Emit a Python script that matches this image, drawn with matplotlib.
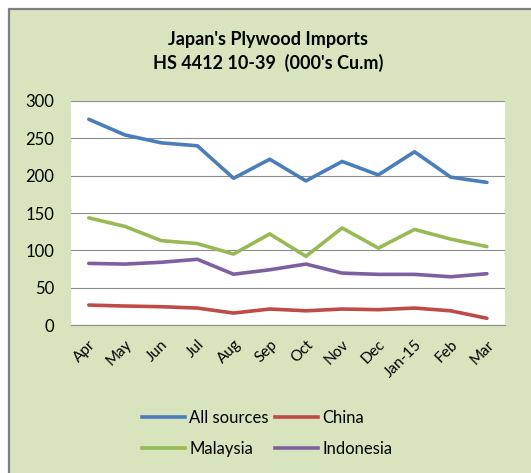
import matplotlib
matplotlib.use("Agg")
import matplotlib.pyplot as plt
from matplotlib.patches import Rectangle
from matplotlib.lines import Line2D

months = ["Apr", "May", "Jun", "Jul", "Aug", "Sep", "Oct", "Nov", "Dec", "Jan-15", "Feb", "Mar"]
all_sources = [275.5, 254.5, 244, 240, 196.5, 222, 193, 219, 201, 232, 198, 191]
china = [26.7, 25.4, 24.5, 22.7, 16, 21.4, 19, 21.4, 20.5, 22.7, 19, 9]
malaysia = [143.5, 132, 113, 109, 95, 122, 92, 130, 103, 128, 115, 105]
indonesia = [82.5, 81.6, 84, 88, 68, 74, 81.6, 69.5, 67.8, 67.8, 64.6, 68.7]

plt.rcParams['font.family'] = ['Lato', 'DejaVu Sans']

W, H = 531, 473
fig = plt.figure(figsize=(W / 100, H / 100), dpi=100, facecolor='white')

bg = '#D7E4BD'
frame = Rectangle((8.5 / W, -0.1), 1.2, 1 - 9.5 / H + 0.1, transform=fig.transFigure,
                  facecolor=bg, edgecolor='#7F7F7F', linewidth=1.6, zorder=-10)
fig.patches.append(frame)

ax = fig.add_axes([70.7 / W, 1 - 325 / H, (505 - 70.7) / W, (325 - 101) / H])
ax.set_facecolor('white')

x = list(range(len(months)))
blue, red, green, purple = '#4A7EBB', '#BE4B48', '#98B954', '#7D60A0'
lw = 2.6
ax.plot(x, all_sources, color=blue, lw=lw, solid_capstyle='round', label='All sources')
ax.plot(x, china, color=red, lw=lw, solid_capstyle='round', label='China')
ax.plot(x, malaysia, color=green, lw=lw, solid_capstyle='round', label='Malaysia')
ax.plot(x, indonesia, color=purple, lw=lw, solid_capstyle='round', label='Indonesia')

ax.set_xlim(-0.5, len(months) - 0.5)
ax.set_ylim(0, 300)
ax.set_yticks(range(0, 301, 50))
ax.grid(axis='y', color='#8C8C8C', linewidth=0.8)
ax.set_axisbelow(True)
for s in ['top', 'right', 'left']:
    ax.spines[s].set_visible(False)
ax.spines['bottom'].set_color('#8C8C8C')
ax.spines['bottom'].set_linewidth(0.8)
ax.tick_params(axis='y', length=0, pad=12, labelsize=12, labelcolor='#000000')
ax.tick_params(axis='x', length=0, pad=9, labelsize=11)
ax.set_xticks(x)
ax.set_xticklabels(months, rotation=45, ha='right', rotation_mode='anchor')

fig.text(268 / W, 1 - 40 / H, "Japan's Plywood Imports", ha='center', va='center',
         fontsize=13, fontweight='bold')
fig.text(268 / W, 1 - 63 / H, "HS 4412 10-39  (000's Cu.m)", ha='center', va='center',
         fontsize=13, fontweight='bold')

handles = [Line2D([], [], color=c, lw=lw) for c in (blue, green, red, purple)]
labels = ['All sources', 'Malaysia', 'China', 'Indonesia']
leg = fig.legend(handles, labels, ncol=2, loc='center', bbox_to_anchor=(267 / W, 1 - 433 / H),
                 frameon=False, fontsize=12, handlelength=2.6, handletextpad=0.25,
                 columnspacing=0.35, labelspacing=0.9)

fig.savefig('out.png', dpi=100, facecolor='white')
